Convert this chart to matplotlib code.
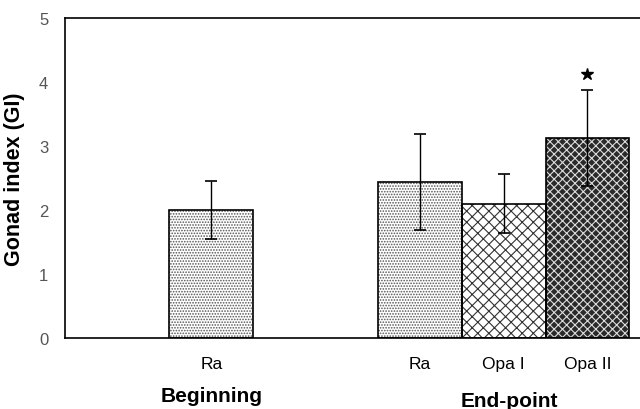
import matplotlib
matplotlib.use("Agg")
import matplotlib.pyplot as plt

# data
labels = ["Ra", "Ra", "Opa I", "Opa II"]
gi_mean = [2.0, 2.44, 2.1, 3.13]
gi_err = [0.45, 0.75, 0.46, 0.75]
groups = ["Beginning", "End-point"]
star_value = 4.12

plt.rcParams['font.family'] = ['Liberation Sans', 'DejaVu Sans']
plt.rcParams['hatch.linewidth'] = 0.8

fig = plt.figure(figsize=(6.4, 4.1), dpi=100)
ax = fig.add_axes([0.1016, 0.173, 0.8984, 0.781])

# layout: one gap of 1.5 bar widths between the two groups
xpos = [0, 2.5, 3.5, 4.5]
w = 1.0

# fill styles: (facecolor, hatch, hatch colour)
styles = [
    ("white", "......", "#555555"),
    ("white", "......", "#555555"),
    ("white", "xxx", "#333333"),
    ("#2a2a2a", "xxxx", "#dddddd"),
]

for x, v, st in zip(xpos, gi_mean, styles):
    fc, hatch, hc = st
    ax.bar(x, v, width=w, color=fc, edgecolor=hc, hatch=hatch, linewidth=0, zorder=2)
    ax.bar(x, v, width=w, facecolor="none", edgecolor="black", linewidth=1.2, zorder=3)

ax.errorbar(xpos, gi_mean, yerr=gi_err, fmt="none", ecolor="black",
            elinewidth=1.0, capsize=4, capthick=1.2, zorder=4)

# significance mark over Opa II
ax.plot([xpos[3]], [star_value], marker="*", color="black", markersize=9,
        linestyle="none", zorder=5)

ax.set_xlim(-1.75, 5.13)
ax.set_ylim(0, 5)
ax.set_yticks([0, 1, 2, 3, 4, 5])
ax.tick_params(axis="y", length=0, pad=12, labelsize=12, labelcolor="#555555")
ax.set_xticks(xpos)
ax.set_xticklabels(labels, fontsize=12.5)
ax.tick_params(axis="x", length=0, pad=13)

ax.spines["right"].set_visible(False)
for s in ["left", "top", "bottom"]:
    ax.spines[s].set_linewidth(1.2)

ax.set_ylabel("Gonad index (GI)", fontsize=15.5, fontweight="bold", labelpad=10)

# group labels under the tick labels
ax.text(xpos[0], -0.89, groups[0], ha="center", va="center", fontsize=15,
        fontweight="bold", clip_on=False)
ax.text(xpos[2] + 0.07, -0.98, groups[1], ha="center", va="center", fontsize=15,
        fontweight="bold", clip_on=False)

fig.savefig("out.png", dpi=100)
